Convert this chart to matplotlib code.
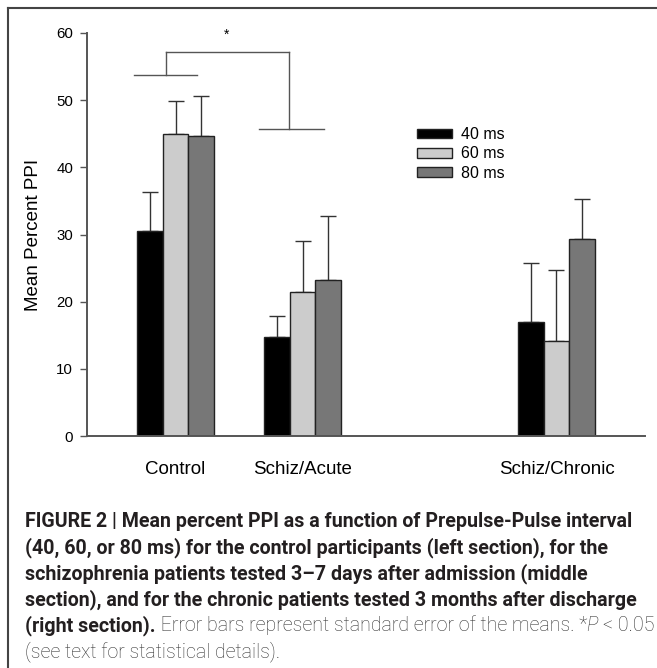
import matplotlib
matplotlib.use("Agg")
import matplotlib.pyplot as plt
from matplotlib.lines import Line2D
import numpy as np

plt.rcParams['font.family'] = ['Liberation Sans', 'DejaVu Sans']

# ---------------- data ----------------
groups = ["Control", "Schiz/Acute", "Schiz/Chronic"]
group_pos = [1, 2, 4]
series = ["40 ms", "60 ms", "80 ms"]
means_40 = [30.5, 14.7, 16.9]
means_60 = [45.0, 21.4, 14.2]
means_80 = [44.7, 23.3, 29.4]
sem_40 = [5.9, 3.1, 8.9]
sem_60 = [4.95, 7.7, 10.5]
sem_80 = [5.9, 9.5, 5.9]
yticks = [0, 10, 20, 30, 40, 50, 60]
ylabel = "Mean Percent PPI"
star_text = "*"
# significance bracket levels (data units)
brk_control_y = 53.8
brk_top_y = 57.1
brk_acute_y = 45.7

colors = ["#000000", "#cccccc", "#777777"]
axis_col = "#555555"

W, H = 657, 668
DPI = 100
fig = plt.figure(figsize=(W / DPI, H / DPI), dpi=DPI)

def fx(px):
    return px / W

def fy(py):
    return 1 - py / H

ax_left, ax_right, ax_top, ax_bottom = 87, 645, 33, 436
ax = fig.add_axes([fx(ax_left), fy(ax_bottom), fx(ax_right - ax_left), (ax_bottom - ax_top) / H])
ax.set_xlim(0.303, 4.697)
ax.set_ylim(0, 60)

bw = 0.2
all_means = [means_40, means_60, means_80]
all_sem = [sem_40, sem_60, sem_80]
handles = []
for i, (m, s) in enumerate(zip(all_means, all_sem)):
    xs = np.array(group_pos) + (i - 1) * bw
    b = ax.bar(xs, m, width=bw, color=colors[i], edgecolor="#222222", linewidth=1.0,
               label=series[i], zorder=2)
    handles.append(b)
    ax.errorbar(xs, m, yerr=[np.zeros(len(s)), s], fmt='none', ecolor="#333333",
                elinewidth=1.0, capsize=6, capthick=1.0, zorder=1)

for sp in ["top", "right"]:
    ax.spines[sp].set_visible(False)
for sp in ["left", "bottom"]:
    ax.spines[sp].set_color(axis_col)
    ax.spines[sp].set_linewidth(1.4)

ax.set_yticks(yticks)
ax.set_yticklabels([str(t) for t in yticks], fontsize=10.8)
ax.tick_params(axis='y', direction='out', length=5, width=1.0, color=axis_col, pad=5)
ax.set_xticks(group_pos)
ax.set_xticklabels(groups, fontsize=13.5)
ax.tick_params(axis='x', length=0, pad=18)
ax.set_ylabel(ylabel, fontsize=13.5, labelpad=10)

# significance brackets
bl = dict(color="#555555", lw=1.0, clip_on=False)
ax.plot([0.677, 1.173], [brk_control_y, brk_control_y], **bl)
ax.plot([0.929, 0.929], [brk_control_y, brk_top_y], **bl)
ax.plot([0.929, 1.89], [brk_top_y, brk_top_y], **bl)
ax.plot([1.89, 1.89], [brk_top_y, brk_acute_y], **bl)
ax.plot([1.654, 2.173], [brk_acute_y, brk_acute_y], **bl)
ax.text(1.40, 59.7, star_text, ha='center', va='center', fontsize=10)

# legend
leg = ax.legend(handles=handles, labels=series, loc='upper left',
                bbox_to_anchor=(fx(417), fy(127)), bbox_transform=fig.transFigure,
                frameon=False, fontsize=11.5, handlelength=2.2, handleheight=0.55,
                handletextpad=0.55, labelspacing=0.28, borderpad=0, borderaxespad=0)

# border (top and left)
fig.add_artist(Line2D([fx(8), 1.0], [fy(8), fy(8)], color="#444444", lw=1.5))
fig.add_artist(Line2D([fx(8), fx(8)], [fy(8), 0.0], color="#444444", lw=1.5))

# caption
cap_bold = "#231f20"
cap_light = "#333333"
cap_font = ['Roboto', 'DejaVu Sans']
lines = [
    [("FIGURE 2 | Mean percent PPI as a function of Prepulse-Pulse interval", 'bold', 'normal', cap_bold)],
    [("(40, 60, or 80 ms) for the control participants (left section), for the", 'bold', 'normal', cap_bold)],
    [("schizophrenia patients tested 3\u20137 days after admission (middle", 'bold', 'normal', cap_bold)],
    [("section), and for the chronic patients tested 3 months after discharge", 'bold', 'normal', cap_bold)],
    [("(right section).", 'bold', 'normal', cap_bold),
     (" Error bars represent standard error of the means. *", 'light', 'normal', cap_light),
     ("P ", 'light', 'italic', cap_light),
     ("< 0.05", 'light', 'normal', cap_light)],
    [("(see text for statistical details).", 'light', 'normal', cap_light)],
]
fig.canvas.draw()
renderer = fig.canvas.get_renderer()
# fit font size so line 4 spans target width
target_w = 613
probe = fig.text(0, 0, lines[3][0][0], fontsize=12, fontweight='bold', family=cap_font)
w = probe.get_window_extent(renderer).width
probe.remove()
cap_fs = 12 * target_w / w

baselines = [527, 553, 579, 605, 631, 657]
x0 = 25
for ln, base in zip(lines, baselines):
    x = x0
    for txt, wt, st, col in ln:
        t = fig.text(fx(x), fy(base), txt, fontsize=cap_fs, fontweight=wt, fontstyle=st,
                     family=cap_font, color=col, va='baseline', ha='left')
        x += t.get_window_extent(renderer).width

fig.savefig("out.png", dpi=DPI)
